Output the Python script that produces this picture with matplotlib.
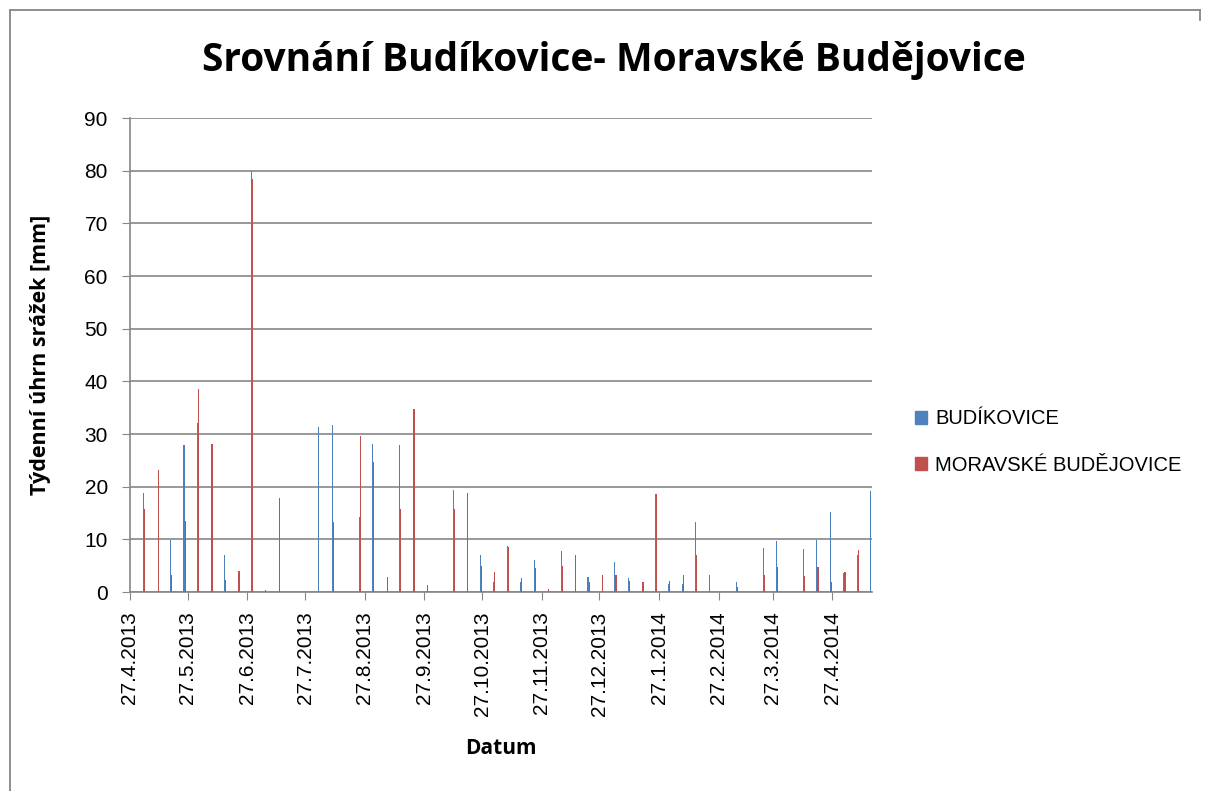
import numpy as np
import pandas as pd
import matplotlib
matplotlib.use("Agg")
import matplotlib.pyplot as plt
import matplotlib.dates as mdates
from matplotlib.lines import Line2D
from matplotlib.patches import Patch

# weekly totals, first week ending 4.5.2013
start_date = "2013-05-04"
budikovice = [18.8, 0, 9.9, 27.9, 32.1, 0, 7.0, 0, 80.0, 0,
              0, 0, 0, 31.3, 31.7, 0, 14.2, 28.1, 0, 27.9,
              0, 0, 0, 19.4, 0, 7.0, 1.9, 8.7, 1.9, 6.1,
              0, 7.8, 0, 2.8, 0, 5.7, 2.7, 0, 18.6, 1.5,
              1.5, 13.3, 3.2, 0, 1.9, 0, 8.3, 9.7, 0, 8.1,
              9.9, 15.2, 3.6, 7.0, 19.2]
mor_budejovice = [15.7, 23.1, 3.2, 13.5, 38.5, 28.1, 2.3, 4.0, 78.4, 0.4,
                  17.8, 0, 0, 0, 13.3, 0, 29.6, 24.6, 2.8, 15.7,
                  34.7, 1.3, 0, 15.7, 18.8, 4.9, 3.8, 8.6, 2.7, 4.6,
                  0.6, 4.9, 7.0, 1.9, 3.2, 3.2, 2.1, 1.9, 18.6, 2.1,
                  3.2, 7.0, 0, 0, 1.0, 0, 3.2, 4.7, 0, 3.1,
                  4.7, 1.9, 3.8, 8.0, 0]
series_names = ["BUDÍKOVICE", "MORAVSKÉ BUDĚJOVICE"]
tick_dates = ["2013-04-27", "2013-05-27", "2013-06-27", "2013-07-27",
              "2013-08-27", "2013-09-27", "2013-10-27", "2013-11-27",
              "2013-12-27", "2014-01-27", "2014-02-27", "2014-03-27",
              "2014-04-27"]

BLUE = "#4F81BD"
RED = "#C0504D"
GREY = "#868686"
FONT = "Liberation Sans"

dates = pd.date_range(start_date, periods=len(budikovice), freq="7D")
x = mdates.date2num(dates) + 0.35

fig = plt.figure(figsize=(12.06, 7.91), dpi=100)
ax = fig.add_axes([130 / 1206, 1 - 592 / 791, (872.3 - 130) / 1206, (592 - 118) / 791])

# each bar about one pixel wide, blue left and red right of the date
w = 0.57
ax.bar(x - w, budikovice, width=w, align="edge", color=BLUE, linewidth=0,
       zorder=3, antialiased=False)
ax.bar(x, mor_budejovice, width=w, align="edge", color=RED, linewidth=0,
       zorder=3, antialiased=False)

ticks = mdates.date2num(pd.to_datetime(tick_dates))
ax.set_xticks(ticks)
ax.set_xticklabels([f"{d.day}.{d.month}.{d.year}" for d in pd.to_datetime(tick_dates)],
                   rotation=90, fontsize=15, family=FONT)
ax.set_xlim(ticks[0], ticks[0] + 385.85)
ax.set_ylim(0, 90)
ax.set_yticks(np.arange(0, 91, 10))
ax.tick_params(axis="y", labelsize=15, length=6, color=GREY, pad=10)
ax.tick_params(axis="x", length=6, color=GREY, pad=8)
for lbl in ax.get_yticklabels():
    lbl.set_family(FONT)
ax.grid(axis="y", color=GREY, linewidth=1.2, zorder=0)
ax.set_axisbelow(True)
for s in ["top", "right"]:
    ax.spines[s].set_visible(False)
for s in ["left", "bottom"]:
    ax.spines[s].set_color(GREY)
    ax.spines[s].set_linewidth(1.2)

ax.set_ylabel("Týdenní úhrn srážek [mm]", fontsize=15.5, fontweight="bold",
              family="Open Sans", labelpad=24)
ax.set_xlabel("Datum", fontsize=15, fontweight="bold", family="Open Sans", labelpad=16)

fig.text(614 / 1206, 1 - 60 / 791, "Srovnání Budíkovice- Moravské Budějovice",
         ha="center", va="center", fontsize=28, fontweight="bold", family="Open Sans")

handles = [Patch(color=BLUE), Patch(color=RED)]
fig.legend(handles, series_names, loc="center left",
           bbox_to_anchor=(897 / 1206, 1 - 442 / 791), frameon=False,
           prop={"family": FONT, "size": 14.5}, handlelength=0.6, handleheight=0.6,
           handletextpad=0.4, labelspacing=1.35)

# chart frame
fig.add_artist(Line2D([10 / 1206, 10 / 1206], [0, 1 - 10 / 791],
                      transform=fig.transFigure, color=GREY, linewidth=1.3))
fig.add_artist(Line2D([10 / 1206, 1200 / 1206], [1 - 10 / 791, 1 - 10 / 791],
                      transform=fig.transFigure, color=GREY, linewidth=1.3))
fig.add_artist(Line2D([1200 / 1206, 1200 / 1206], [1 - 10 / 791, 1 - 20 / 791],
                      transform=fig.transFigure, color=GREY, linewidth=1.3))

fig.savefig("out.png", dpi=100)
